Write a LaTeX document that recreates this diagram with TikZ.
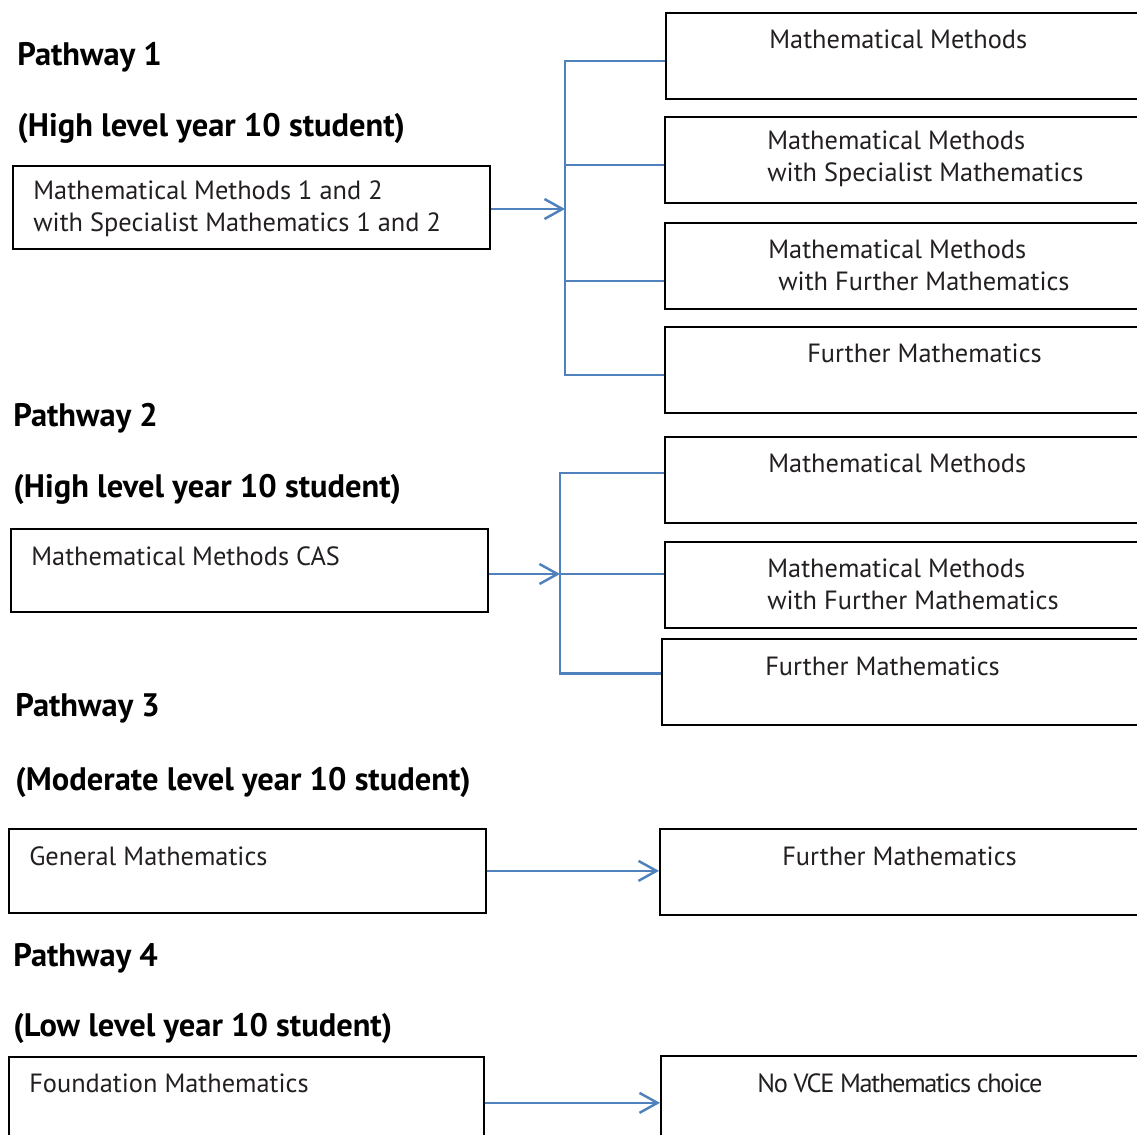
\documentclass[tikz,border=0pt]{standalone}
\usepackage{fontspec}
\setmainfont{PT Sans}
\usetikzlibrary{arrows.meta}

\definecolor{linkblue}{RGB}{79,129,189}
\definecolor{textgray}{RGB}{35,31,32}

\tikzset{
  heading/.style={anchor=west, inner sep=0, font=\fontsize{18.5}{22}\selectfont\bfseries},
  course/.style={draw, line width=1pt, anchor=north west, inner sep=0, minimum width=9.54cm, minimum height=1.66cm},
  choice/.style={course, minimum width=9.8cm, minimum height=1.72cm},
  coursetext/.style={anchor=west, inner sep=0, align=left, text=textgray, font=\fontsize{15}{18.1}\selectfont},
  link/.style={draw=linkblue, line width=1.4pt},
  linkarrow/.style={link, -{Straight Barb[length=3.6mm, width=4mm]}}
}

\begin{document}
\begin{tikzpicture}[x=0.02cm, y=-0.02cm]
\useasboundingbox (0,0) rectangle (1137,1135);

% Pathway 1
\node[heading] (h1) at (17,57) {Pathway 1};
\node[heading] (l1) at (17,128) {(High level year 10 student)};
\node[course, label={[coursetext, shift={(21,44)}]north west:Mathematical Methods 1 and 2\\with Specialist Mathematics 1 and 2}] (p1) at (12,165) {};

\node[choice, label={[coursetext, shift={(104,27)}]north west:Mathematical Methods}] (r1) at (665,12) {};
\node[choice, label={[coursetext, shift={(103,43)}]north west:Mathematical Methods\\with Specialist Mathematics}] (r2) at (664,116) {};
\node[choice, label={[coursetext, shift={(104,43)}]north west:Mathematical Methods\\\hspace{0.2cm}with Further Mathematics}] (r3) at (664,222) {};
\node[choice, label={[coursetext, shift={(143,27)}]north west:Further Mathematics}] (r4) at (664,326) {};

\coordinate (bus1) at (565,209);
\draw[linkarrow] (p1.east |- bus1) -- (bus1);
\draw[link] ([yshift=-0.1cm]r1.west) -| (bus1) |- ([yshift=-0.1cm]r4.west);
\draw[link] ([yshift=-0.1cm]r2.west -| bus1) -- ([yshift=-0.1cm]r2.west);
\draw[link] ([yshift=-0.3cm]r3.west -| bus1) -- ([yshift=-0.3cm]r3.west);

% Pathway 2
\node[heading] (h2) at (13,418) {Pathway 2};
\node[heading] (l2) at (13,489) {(High level year 10 student)};
\node[course, label={[coursetext, shift={(21,28)}]north west:Mathematical Methods CAS}] (p2) at (10,528) {};

\node[choice, label={[coursetext, shift={(104,27)}]north west:Mathematical Methods}] (r5) at (664,436) {};
\node[choice, label={[coursetext, shift={(103,43)}]north west:Mathematical Methods\\with Further Mathematics}] (r6) at (664,541) {};
\node[choice, label={[coursetext, shift={(104,28)}]north west:Further Mathematics}] (r7) at (661,638) {};

\coordinate (bus2) at (560,574);
\draw[linkarrow] (p2.east |- bus2) -- (bus2);
\draw[link] ([yshift=0.14cm]r5.west) -| (bus2) |- ([yshift=0.17cm]r7.west);
\draw[link] (bus2) -- (bus2 -| r6.west);

% Pathway 3
\node[heading] (h3) at (15,708) {Pathway 3};
\node[heading] (l3) at (15,782) {(Moderate level year 10 student)};
\node[course, minimum height=1.68cm, label={[coursetext, shift={(21,28)}]north west:General Mathematics}] (p3) at (8,828) {};
\node[choice, label={[coursetext, shift={(123,28)}]north west:Further Mathematics}] (r8) at (659,828) {};
\draw[linkarrow] (p3.east) -- (p3.east -| r8.west);

% Pathway 4
\node[heading] (h4) at (13,958) {Pathway 4};
\node[heading] (l4) at (13,1028) {(Low level year 10 student)};
\node[course, minimum width=9.5cm, minimum height=1.84cm, label={[coursetext, shift={(21,27)}]north west:Foundation Mathematics}] (p4) at (8,1056) {};
\node[choice, minimum height=1.88cm, label={[coursetext, shift={(97,28)}]north west:\addfontfeature{LetterSpace=-5}No VCE Mathematics choice}] (r9) at (660,1055) {};
\draw[linkarrow] (p4.east) -- (p4.east -| r9.west);

\end{tikzpicture}
\end{document}
